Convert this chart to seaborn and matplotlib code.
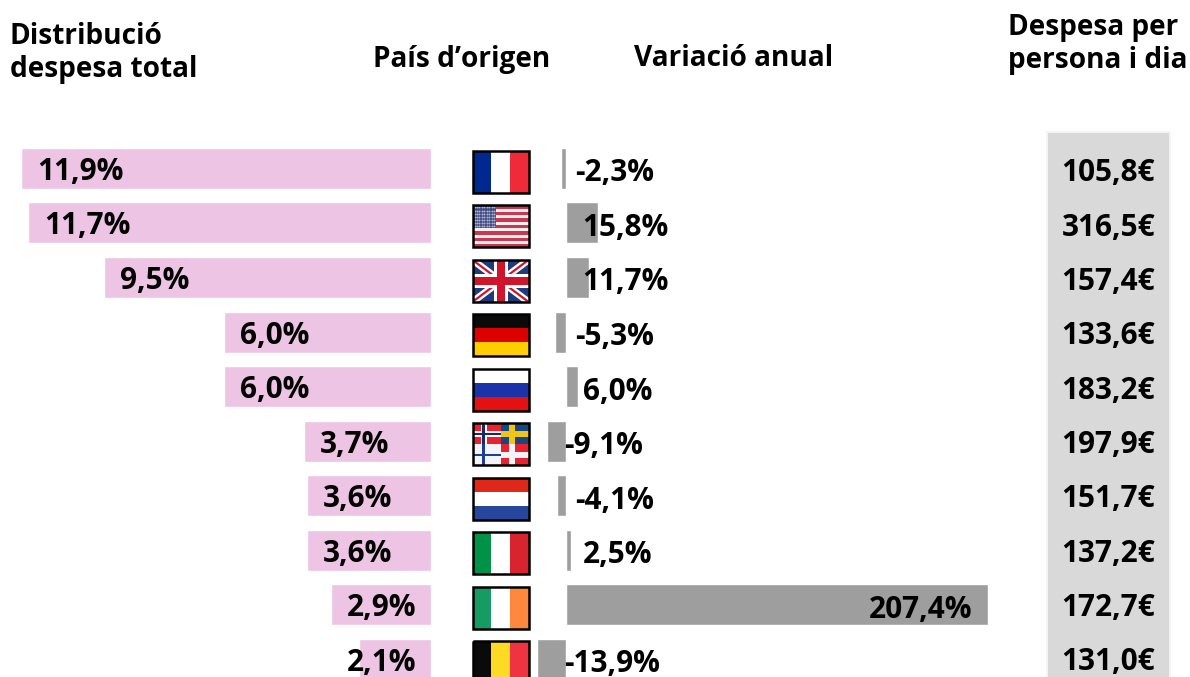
import numpy as np
import pandas as pd
import matplotlib
matplotlib.use("Agg")
import matplotlib.pyplot as plt
from matplotlib.patches import Rectangle
import seaborn as sns

countries = ["França", "Estats Units", "Regne Unit", "Alemanya", "Rússia",
             "Països nòrdics", "Països Baixos", "Itàlia", "Irlanda", "Bèlgica"]
share = [11.9, 11.7, 9.5, 6.0, 6.0, 3.7, 3.6, 3.6, 2.9, 2.1]
variation = [-2.3, 15.8, 11.7, -5.3, 6.0, -9.1, -4.1, 2.5, 207.4, -13.9]
spend = [105.8, 316.5, 157.4, 133.6, 183.2, 197.9, 151.7, 137.2, 172.7, 131.0]

PINK, GREY, PANEL = "#eec4e5", "#9e9e9e", "#d9d9d9"
W, H = 1190, 677
ROW0, ROWSTEP = 168.4, 54.55

sns.set_theme(style="white")
plt.rcParams["font.family"] = ["Open Sans", "DejaVu Sans"]
plt.rcParams["font.weight"] = "bold"
FS = 21.4
HFS = 20.2

def comma(v, suffix):
    return f"{v:.1f}".replace(".", ",") + suffix

df = pd.DataFrame({"country": countries, "share": share, "variation": variation, "spend": spend})
fig = plt.figure(figsize=(W / 100, H / 100), dpi=100, facecolor="white")

ov = fig.add_axes([0, 0, 1, 1], zorder=0)
ov.set_xlim(0, W); ov.set_ylim(H, 0); ov.axis("off")

ylim = ((H - ROW0) / ROWSTEP, -ROW0 / ROWSTEP)

# share bars
PX_SHARE = 34.42
ax1 = fig.add_axes([0, 0, 431 / W, 1], zorder=1)
sns.barplot(data=df, y="country", x="share", color=PINK, saturation=1, width=0.75, ax=ax1)
ax1.set_xlim(431 / PX_SHARE, 0); ax1.set_ylim(*ylim); ax1.axis("off"); ax1.patch.set_alpha(0)
for i, v in enumerate(share):
    ax1.annotate(comma(v, "%"), (max(v, 2.9), i), xytext=(16 * .72, 0), textcoords="offset points",
                 ha="left", va="center_baseline", fontsize=FS, color="black", fontweight="bold")

# variation bars
PX_VAR = 2.037
ZERO = 565.6
x0, x1 = 532, 1000
ax2 = fig.add_axes([x0 / W, 0, (x1 - x0) / W, 1], zorder=1)
sns.barplot(data=df, y="country", x="variation", color=GREY, saturation=1, width=0.75, ax=ax2)
ax2.set_xlim((x0 - ZERO) / PX_VAR, (x1 - ZERO) / PX_VAR); ax2.set_ylim(*ylim); ax2.axis("off"); ax2.patch.set_alpha(0)
for i, v in enumerate(variation):
    if v > 100:
        xy, off, ha = (v, i), -16, "right"
    elif v > 0:
        xy, off, ha = (0, i), 17, "left"
    elif v > -8:
        xy, off, ha = (0, i), 10, "left"
    else:
        xy, off, ha = (0, i), -1, "left"
    ax2.annotate(comma(v, "%"), xy, xytext=(off * .72, -1.5 * .72), textcoords="offset points",
                 ha=ha, va="center_baseline", fontsize=FS, color="black", fontweight="bold")

# spend panel
ov.add_patch(Rectangle((1046, 131), 125, H, fc="#f4f4f4", ec="none"))
ov.add_patch(Rectangle((1048, 133), 121, H, fc=PANEL, ec="none"))
for i, v in enumerate(spend):
    ov.text(1155, ROW0 + 1.5 + i * 54.3, comma(v, "€"), ha="right", va="center_baseline",
            fontsize=FS, color="black", fontweight="bold")

# headers
def hdr(x, y, s):
    ov.text(x, y, s, ha="left", va="center", fontsize=HFS, color="black", fontweight="bold", linespacing=1.17)
hdr(10, 53, "Distribució\ndespesa total")
hdr(373, 59, "País d’origen")
hdr(634, 59, "Variació anual")
hdr(1008, 44, "Despesa per\npersona i dia")

# flags
FX, FW, FH = 472.5, 56, 42
FLAG0, FLAGSTEP = 172.0, 54.45

def clipbox(y):
    return Rectangle((FX, y), FW, FH, transform=ov.transData)

def vstripes(y, cols):
    for k, c in enumerate(cols):
        ov.add_patch(Rectangle((FX + k * FW / len(cols), y), FW / len(cols), FH, fc=c, ec="none", zorder=2))

def hstripes(y, cols):
    for k, c in enumerate(cols):
        ov.add_patch(Rectangle((FX, y + k * FH / len(cols)), FW, FH / len(cols), fc=c, ec="none", zorder=2))

def usa(y):
    hstripes(y, ["#c9384e" if k % 2 == 0 else "#f6eef0" for k in range(13)])
    ov.add_patch(Rectangle((FX, y), FW * .42, FH * 7 / 13, fc="#3f4a80", ec="none", zorder=3))
    sx, sy = np.meshgrid(np.linspace(FX + 2, FX + FW * .42 - 2, 9), np.linspace(y + 2, y + FH * 7 / 13 - 2, 7))
    ov.scatter(sx.ravel(), sy.ravel(), s=2, c="#aeb4d2", linewidths=0, zorder=4)

def uk(y):
    ov.add_patch(Rectangle((FX, y), FW, FH, fc="#1f3a7d", ec="none", zorder=2))
    clip = clipbox(y)
    for p, q, c, lw in [((FX, y), (FX + FW, y + FH), "white", 5), ((FX, y + FH), (FX + FW, y), "white", 5),
                        ((FX, y), (FX + FW, y + FH), "#cf142b", 1.6), ((FX, y + FH), (FX + FW, y), "#cf142b", 1.6)]:
        l, = ov.plot([p[0], q[0]], [p[1], q[1]], color=c, lw=lw, zorder=3, solid_capstyle="butt")
        l.set_clip_path(clip)
    ov.add_patch(Rectangle((FX + FW / 2 - 7, y), 14, FH, fc="white", ec="none", zorder=4))
    ov.add_patch(Rectangle((FX, y + FH / 2 - 7), FW, 14, fc="white", ec="none", zorder=4))
    ov.add_patch(Rectangle((FX + FW / 2 - 4, y), 8, FH, fc="#cf142b", ec="none", zorder=5))
    ov.add_patch(Rectangle((FX, y + FH / 2 - 4), FW, 8, fc="#cf142b", ec="none", zorder=5))

def nordic(y):
    qs = [(0, 0, "#e8222f", "#f4f4f8", "#1b2a5e"), (1, 0, "#17477f", "#f0c419", "#f0c419"),
          (0, 1, "#f4f4f8", "#f4f4f8", "#1c3f8f"), (1, 1, "#e8222f", "#f4f4f8", "#f4f4f8")]
    for cx, cy, bg, c1, c2 in qs:
        qx, qy = FX + cx * FW / 2, y + cy * FH / 2
        ov.add_patch(Rectangle((qx, qy), FW / 2, FH / 2, fc=bg, ec="none", zorder=2))
        ov.add_patch(Rectangle((qx + 8, qy), 6, FH / 2, fc=c1, ec="none", zorder=3))
        ov.add_patch(Rectangle((qx, qy + 7.5), FW / 2, 6, fc=c1, ec="none", zorder=3))
        ov.add_patch(Rectangle((qx + 9.8, qy), 2.5, FH / 2, fc=c2, ec="none", zorder=4))
        ov.add_patch(Rectangle((qx, qy + 9.3), FW / 2, 2.5, fc=c2, ec="none", zorder=4))

flags = [
    lambda y: vstripes(y, ["#00288f", "white", "#ef2b39"]),
    usa, uk,
    lambda y: hstripes(y, ["#0a0a0a", "#dd0000", "#ffce00"]),
    lambda y: hstripes(y, ["white", "#1a33a8", "#e31212"]),
    nordic,
    lambda y: hstripes(y, ["#e0281a", "white", "#26479c"]),
    lambda y: vstripes(y, ["#009246", "white", "#d8242f"]),
    lambda y: vstripes(y, ["#169b62", "white", "#ff883e"]),
    lambda y: vstripes(y, ["#0a0a0a", "#fdda24", "#ef3340"]),
]
for i, f in enumerate(flags):
    y = FLAG0 + i * FLAGSTEP - FH / 2
    f(y)
    ov.add_patch(Rectangle((FX, y), FW, FH, fc="none", ec="black", lw=1.8, zorder=6))

fig.savefig("out.png", dpi=100)
